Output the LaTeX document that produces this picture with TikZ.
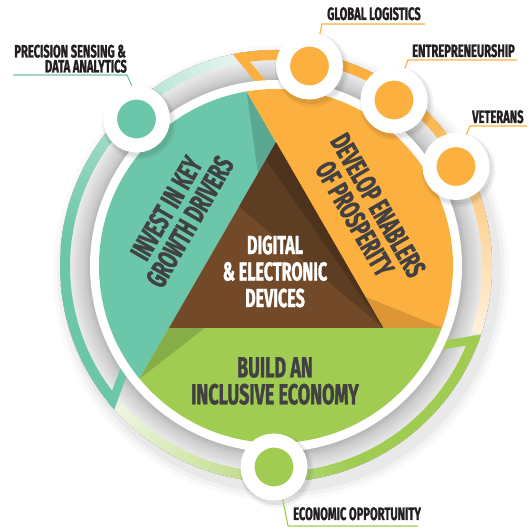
\documentclass[tikz,border=0pt]{standalone}
\usepackage{fontspec}
\newfontfamily\condfont[FakeStretch=0.62, BoldFeatures={FakeBold=1.2}]{Fira Sans}
\usetikzlibrary{calc}
\definecolor{tealc}{HTML}{6CC6AA}
\definecolor{tealdk}{HTML}{5AA892}
\definecolor{orangec}{HTML}{FBB040}
\definecolor{orangedk}{HTML}{DC9535}
\definecolor{greenc}{HTML}{A0CC52}
\definecolor{greendk}{HTML}{87AD48}
\definecolor{brownc}{HTML}{724A29}
\definecolor{browndk}{HTML}{5E3E22}
\definecolor{browndkk}{HTML}{4D331C}
\definecolor{txtgrey}{HTML}{414042}
\definecolor{lblblack}{HTML}{231F20}
\pgfdeclareradialshading{ringsh}{\pgfpoint{0bp}{0bp}}{color(0bp)=(black!28); color(21.6bp)=(black!28); color(22.2bp)=(black!20); color(23.9bp)=(black!8); color(25bp)=(black!6); color(50bp)=(black!6)}
\tikzset{
  lbl/.style={font=\condfont\bfseries\fontsize{18}{18}\selectfont, text=lblblack, inner sep=0pt},
  bigtxt/.style={font=\condfont\bfseries\fontsize{29}{27}\selectfont, text=txtgrey, align=center, inner sep=0pt},
  ctrtxt/.style={font=\condfont\bfseries\fontsize{26}{26.5}\selectfont, text=white, align=center, inner sep=0pt},
  dot/.style={circle, draw=white, line width=14pt, minimum size=53pt, inner sep=0pt},
  lead/.style={line width=1.1pt},
}
\begin{document}
\begin{tikzpicture}[x=1pt,y=1pt]
\useasboundingbox (0,0) rectangle (532,529);
\coordinate (O) at (276,263);
% soft outer shadow
\foreach \r/\o in {228/0.02,224/0.03,220/0.04} {
  \fill[black, opacity=\o] (281,256) circle (\r);
}
% grey ring under the arcs
\fill[shading=ringsh] (O) circle (216);
% outer arcs with feet
\foreach \rot/\col in {0/tealc, -120/orangec, 120/greenc} {
  \begin{scope}[shift={(276,263)}, rotate=\rot]
    \fill[\col] (-145.96,-101.25) -- (-161.8,-143.1) -- (-168.3,-136.4) -- (-153.9,-98.24) -- cycle;
    \fill[\col] (221.5:216) arc[start angle=221.5, end angle=170, radius=216] -- (170:206) arc[start angle=170, end angle=220, radius=206] -- cycle;
    \foreach \k in {0,...,34} {
      \pgfmathsetmacro\aa{171.5-2*\k}
      \pgfmathsetmacro\bb{max(\aa-2.6,101.6)}
      \pgfmathtruncatemacro\pp{100-82*(\k+0.5)/35}
      \draw[line width=10pt, \col!\pp!white] (\aa:211) arc[start angle=\aa, end angle=\bb, radius=211];
    }
  \end{scope}
}
% white ring
\fill[white] (O) circle (186);
% pinwheel regions
\begin{scope}[shift={(276,263)}]
  \begin{scope}
    \clip (0,0) circle (177);
    \foreach \rot/\col/\dk in {0/tealc/tealdk, -120/orangec/orangedk, 120/greenc/greendk} {
      \begin{scope}[rotate=\rot]
        \fill[\col] (0,123.55) -- (-250,556.6) -- (-600,0) -- (-357,-494.8) -- (-107,-61.78) -- cycle;
        \fill[\dk] (-29.45,174.6) -- (0,123.55) -- (-18,92.37) -- cycle;
      \end{scope}
    }
  \end{scope}
  % central triangle
  \fill[brownc] (0,123.55) -- (-107,-61.78) -- (107,-61.78) -- cycle;
  \fill[browndk] (0,123.55) -- (-37,59.5) -- (107,-61.78) -- cycle;
  \fill[browndkk] (0,123.55) -- (-10,106.2) -- (107,-61.78) -- cycle;
\end{scope}
% region texts
\node[bigtxt] (build) at (275,148) {BUILD AN\\INCLUSIVE ECONOMY};
\node[bigtxt, rotate=60] (invest) at (178,314) {INVEST IN KEY\\GROWTH DRIVERS};
\node[bigtxt, rotate=-60] (develop) at (366.5,317) {DEVELOP ENABLERS\\OF PROSPERITY};
\node[ctrtxt] (digital) at (275,257.5) {DIGITAL\\\& ELECTRONIC\\DEVICES};
% small circles with shadows
\foreach \p in {(136.5,410),(309.5,463),(394,429),(456,362.5),(274,62)} {
  \fill[black, opacity=0.05] \p ++(2.5,-3.5) circle (37);
  \fill[black, opacity=0.07] \p ++(2,-3) circle (35);
}
\node[dot, fill=tealc] (c1) at (136.5,410) {};
\node[dot, fill=orangec] (c2) at (309.5,463) {};
\node[dot, fill=orangec] (c3) at (394,429) {};
\node[dot, fill=orangec] (c4) at (456,362.5) {};
\node[dot, fill=greenc] (c5) at (274,62) {};
% labels
\node[lbl, anchor=base east] (pre1) at (126,471.5) {PRECISION SENSING \&};
\node[lbl, anchor=base east] (pre2) at (127,456.5) {DATA ANALYTICS};
\node[lbl, anchor=base west] (glt) at (327,509) {GLOBAL LOGISTICS};
\node[lbl, anchor=base west] (ent) at (412,472) {ENTREPRENEURSHIP};
\node[lbl, anchor=base west] (vet) at (472,406) {VETERANS};
\node[lbl, anchor=base west] (eco) at (293,9) {ECONOMIC OPPORTUNITY};
% leader lines
\coordinate (pre-a) at (13,454);  \coordinate (pre-b) at (127,454);
\coordinate (glt-a) at (425,505); \coordinate (glt-b) at (322,505);
\coordinate (ent-a) at (517,469); \coordinate (ent-b) at (408,469);
\coordinate (vet-a) at (527,403); \coordinate (vet-b) at (470,403);
\coordinate (eco-a) at (418,3);   \coordinate (eco-b) at (288,3);
\draw[lead, tealc] (pre-a) -- (pre-b) -- (c1.98);
\draw[lead, orangec] (glt-a) -- (glt-b) -- (c2.72);
\draw[lead, orangec] (ent-a) -- (ent-b) -- (c3.71);
\draw[lead, orangec] (vet-a) -- (vet-b) -- (c4.72);
\draw[lead, greenc] (eco-a) -- (eco-b) -- (c5.-75);
\end{tikzpicture}
\end{document}
